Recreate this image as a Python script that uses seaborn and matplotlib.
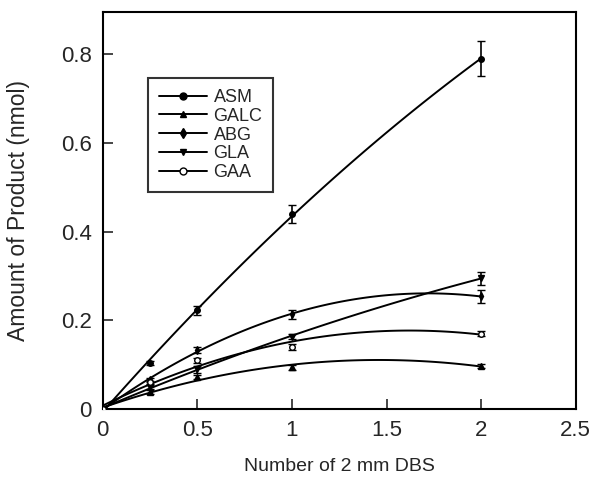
import matplotlib
matplotlib.use("Agg")
import matplotlib.pyplot as plt
import numpy as np
import pandas as pd
import seaborn as sns
from matplotlib.lines import Line2D

# data
dbs = [0, 0.25, 0.5, 1, 2]
asm = [0, 0.104, 0.223, 0.44, 0.79]
galc = [0, 0.038, 0.072, 0.094, 0.097]
abg = [0, 0.066, 0.133, 0.214, 0.254]
gla = [0, 0.05, 0.09, 0.163, 0.295]
gaa = [0, 0.06, 0.11, 0.14, 0.17]
asm_err = [0, 0.005, 0.01, 0.02, 0.04]
galc_err = [0, 0.004, 0.005, 0.006, 0.005]
abg_err = [0, 0.004, 0.006, 0.01, 0.015]
gla_err = [0, 0.004, 0.008, 0.006, 0.015]
gaa_err = [0, 0.004, 0.006, 0.006, 0.006]

series = {
    'ASM': (asm, asm_err, 'o', 'k'),
    'GALC': (galc, galc_err, '^', 'k'),
    'ABG': (abg, abg_err, 'd', 'k'),
    'GLA': (gla, gla_err, 'v', 'k'),
    'GAA': (gaa, gaa_err, 'o', 'white'),
}

sns.set_style('ticks')
plt.rcParams['font.family'] = ['Liberation Sans', 'DejaVu Sans']

fig = plt.figure(figsize=(6.01, 4.87), dpi=100)
ax = fig.add_axes([0.171, 0.160, 0.787, 0.815])

handles = []
for name, (vals, errs, mk, face) in series.items():
    df = pd.DataFrame({'x': dbs, 'y': vals})
    # second order fit curve like the original figure
    sns.regplot(data=df, x='x', y='y', order=2, ci=None, scatter=False,
                ax=ax, line_kws={'color': 'black', 'lw': 1.4})
    ax.errorbar(dbs, vals, yerr=errs, fmt=mk, ms=4, mfc=face, mec='black',
                mew=1.0, ecolor='black', elinewidth=1.2, capsize=3, capthick=1.2,
                zorder=3)
    handles.append(Line2D([], [], color='black', lw=1.4, marker=mk, ms=5,
                          mfc=face, mec='black', label=name))

ax.set_xlim(0, 2.5)
ax.set_ylim(0, 0.895)
ax.set_xticks([0, 0.5, 1, 1.5, 2, 2.5])
ax.set_xticklabels(['0', '0.5', '1', '1.5', '2', '2.5'])
ax.set_yticks([0, 0.2, 0.4, 0.6, 0.8])
ax.set_yticklabels(['0', '0.2', '0.4', '0.6', '0.8'])
ax.tick_params(direction='in', length=7, width=1.2, labelsize=16, pad=8)
for s in ax.spines.values():
    s.set_linewidth(1.5)
    s.set_color('black')

ax.set_xlabel('Number of 2 mm DBS', fontsize=14, labelpad=12)
ax.set_ylabel('Amount of Product (nmol)', fontsize=16.5, labelpad=22)

leg = ax.legend(handles=handles, loc='upper left', bbox_to_anchor=(0.095, 0.834),
                borderaxespad=0, fontsize=13, handlelength=2.7, handletextpad=0.35,
                labelspacing=0.1, frameon=True, fancybox=False, edgecolor='black',
                borderpad=0.6)
leg.get_frame().set_linewidth(1.5)

fig.savefig('out.png', dpi=100)
